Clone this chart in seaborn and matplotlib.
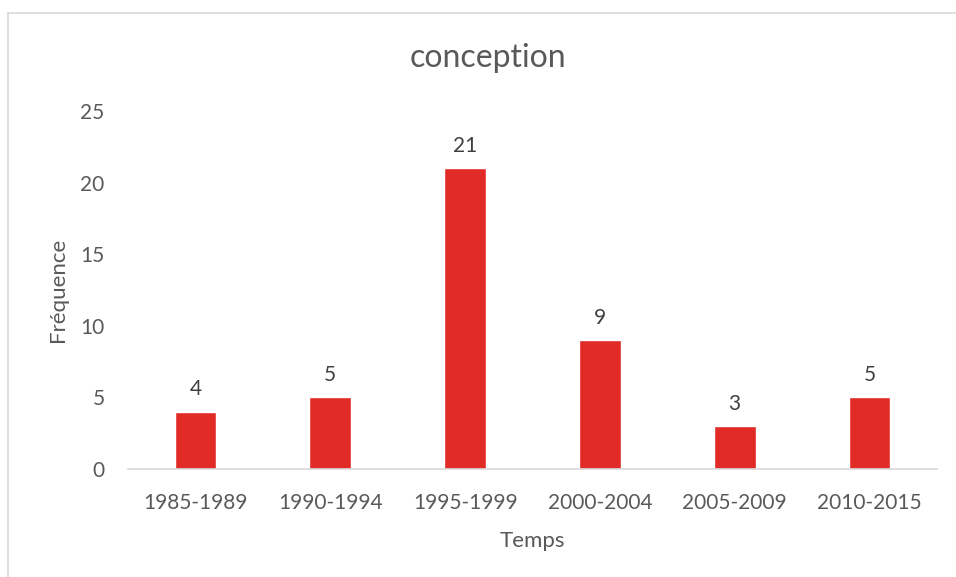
import matplotlib
matplotlib.use("Agg")
import matplotlib.pyplot as plt
import seaborn as sns
import pandas as pd
from matplotlib.lines import Line2D

# data
periods = ["1985-1989", "1990-1994", "1995-1999", "2000-2004", "2005-2009", "2010-2015"]
frequence = [4, 5, 21, 9, 3, 5]

df = pd.DataFrame({"Temps": periods, "Fréquence": frequence})

sns.set_theme(style="white")
plt.rcParams['font.family'] = ['Lato', 'DejaVu Sans']

text_col = "#595959"

fig = plt.figure(figsize=(9.56, 5.77), dpi=100)
ax = fig.add_axes([0.134, 0.187, 0.846, 0.6205])

sns.barplot(data=df, x="Temps", y="Fréquence", color="#E02B27", width=0.31,
            saturation=1, ax=ax)

for c in ax.containers:
    ax.bar_label(c, padding=9, fontsize=15, color="#404040")

ax.set_ylim(0, 25)
ax.set_yticks([0, 5, 10, 15, 20, 25])
ax.set_xlim(-0.5, len(periods) - 0.5)

for s in ["top", "right", "left"]:
    ax.spines[s].set_visible(False)
ax.spines["bottom"].set_color("#D9D9D9")
ax.spines["bottom"].set_linewidth(1.2)

ax.tick_params(axis="y", length=0, pad=17, labelsize=15, labelcolor=text_col)
ax.tick_params(axis="x", length=0, pad=17, labelsize=15, labelcolor=text_col)

ax.set_xlabel("Temps", fontsize=16, color=text_col, labelpad=13)
ax.set_ylabel("Fréquence", fontsize=16, color=text_col, labelpad=9)
# title sits over the whole chart, not the plot area
ax.set_title("conception", fontsize=23, color=text_col, pad=32, x=0.445)

# chart border like the source
fig.add_artist(Line2D([8 / 956, 1.0], [1 - 13 / 577, 1 - 13 / 577],
                      transform=fig.transFigure, color="#D9D9D9", lw=1.2))
fig.add_artist(Line2D([8 / 956, 8 / 956], [0.0, 1 - 13 / 577],
                      transform=fig.transFigure, color="#D9D9D9", lw=1.2))

fig.savefig("out.png", dpi=100)
